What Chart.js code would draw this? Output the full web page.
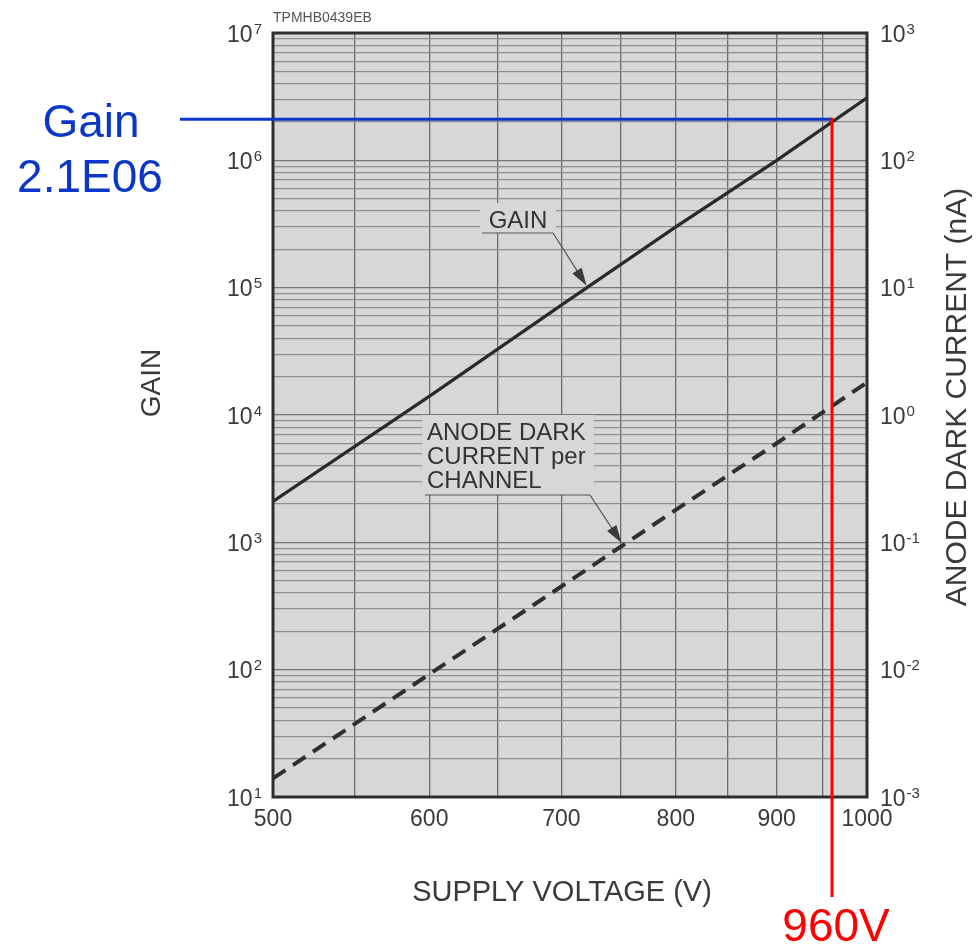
<!DOCTYPE html>
<html>
<head>
<meta charset="utf-8">
<title>Gain and anode dark current vs supply voltage</title>
<script src="https://cdn.jsdelivr.net/npm/chart.js@4.4.1/dist/chart.umd.min.js"></script>
<style>
  html, body { margin: 0; padding: 0; background: #fff; }
  #wrap { width: 976px; height: 947px; }
</style>
</head>
<body>
<div id="wrap"><canvas id="chart" width="976" height="947"></canvas></div>
<script>
// supply voltage (V) and the two curves read at each step
const voltages = [500, 600, 700, 800, 900, 1000];
const gain = [2.1e3, 1.4e4, 7.3e4, 3.0e5, 1.0e6, 3.1e6];
const darkCurrent = [1.4e-3, 9.2e-3, 0.045, 0.18, 0.6, 1.8]; // nA

const voltTicks = [500, 600, 700, 800, 900, 1000];
const voltGrid = [500, 550, 600, 650, 700, 750, 800, 850, 900, 950, 1000];
const gainDecades = [1e1, 1e2, 1e3, 1e4, 1e5, 1e6, 1e7];
const gainTickExp = ['1', '2', '3', '4', '5', '6', '7'];
const darkDecades = [1e-3, 1e-2, 1e-1, 1, 1e1, 1e2, 1e3];
const darkTickExp = ['-3', '-2', '-1', '0', '1', '2', '3'];

// operating point marked on top of the datasheet plot
const markVolt = 960;
const markGain = 2.1e6;
const markGainText = '2.1E06';

const FONT = "'Liberation Sans', Arial, sans-serif";
const PLOT_BG = '#d7d7d7';
const INK = '#333';
const LABEL = '#3a3a3a';

// log paper: lines at 1..9 of every decade
const gainGrid = [];
gainDecades.slice(0, -1).forEach(d => {
    for (let m = 1; m < 10; m++) gainGrid.push(m * d);
});
gainGrid.push(gainDecades[gainDecades.length - 1]);

function decadeIndex(list, v) {
    return list.findIndex(d => Math.abs(d - v) / d < 1e-6);
}

// pixel point on a drawn dataset line at voltage v
function pointOnLine(chart, dsIndex, v) {
    const pts = chart.getDatasetMeta(dsIndex).data;
    const px = chart.scales.x.getPixelForValue(v);
    for (let i = 0; i < pts.length - 1; i++) {
        if (px >= pts[i].x && px <= pts[i + 1].x) {
            const t = (px - pts[i].x) / (pts[i + 1].x - pts[i].x);
            return { x: px, y: pts[i].y + t * (pts[i + 1].y - pts[i].y) };
        }
    }
    return { x: px, y: pts[pts.length - 1].y };
}

function arrow(ctx, x0, y0, x1, y1) {
    const ang = Math.atan2(y1 - y0, x1 - x0);
    const len = 18, half = 5.5;
    ctx.beginPath();
    ctx.moveTo(x0, y0);
    ctx.lineTo(x1 - Math.cos(ang) * len * 0.6, y1 - Math.sin(ang) * len * 0.6);
    ctx.stroke();
    ctx.beginPath();
    ctx.moveTo(x1, y1);
    ctx.lineTo(x1 - Math.cos(ang) * len + Math.sin(ang) * half, y1 - Math.sin(ang) * len - Math.cos(ang) * half);
    ctx.lineTo(x1 - Math.cos(ang) * len - Math.sin(ang) * half, y1 - Math.sin(ang) * len + Math.cos(ang) * half);
    ctx.closePath();
    ctx.fill();
}

// "10" with a raised exponent; align 'right' or 'left' at x
function powerLabel(ctx, exp, x, y, align) {
    ctx.font = `23px ${FONT}`;
    const wb = ctx.measureText('10').width;
    ctx.font = `15px ${FONT}`;
    const we = ctx.measureText(exp).width;
    const x0 = align === 'right' ? x - wb - we - 1 : x;
    ctx.textAlign = 'left';
    ctx.textBaseline = 'alphabetic';
    ctx.font = `23px ${FONT}`;
    ctx.fillText('10', x0, y + 8.5);
    ctx.font = `15px ${FONT}`;
    ctx.fillText(exp, x0 + wb + 1, y + 0.5);
}

function rotatedText(ctx, text, x, y, size) {
    ctx.save();
    ctx.translate(x, y);
    ctx.rotate(-Math.PI / 2);
    ctx.font = `${size}px ${FONT}`;
    ctx.textAlign = 'center';
    ctx.textBaseline = 'middle';
    ctx.fillText(text, 0, 0);
    ctx.restore();
}

const paperPlugin = {
    id: 'paper',
    beforeDraw(chart) {
        const { ctx, chartArea: a } = chart;
        ctx.save();
        ctx.fillStyle = PLOT_BG;
        ctx.fillRect(a.left, a.top, a.right - a.left, a.bottom - a.top);
        ctx.restore();
    },
    afterDraw(chart) {
        const { ctx, chartArea: a } = chart;
        const x = chart.scales.x, y = chart.scales.y, y2 = chart.scales.y2;
        ctx.save();

        // frame
        ctx.strokeStyle = '#2e2e2e';
        ctx.lineWidth = 3;
        ctx.strokeRect(a.left, a.top, a.right - a.left, a.bottom - a.top);

        // drawing number
        ctx.fillStyle = '#555';
        ctx.font = `14px ${FONT}`;
        ctx.textAlign = 'left';
        ctx.textBaseline = 'alphabetic';
        ctx.fillText('TPMHB0439EB', a.left, 22);

        // decade labels on both log axes
        ctx.fillStyle = LABEL;
        gainDecades.forEach((v, i) => powerLabel(ctx, gainTickExp[i], a.left - 11, y.getPixelForValue(v), 'right'));
        darkDecades.forEach((v, i) => powerLabel(ctx, darkTickExp[i], a.right + 13, y2.getPixelForValue(v), 'left'));

        // axis titles
        rotatedText(ctx, 'GAIN', 152, 383, 28);
        rotatedText(ctx, 'ANODE DARK CURRENT (nA)', 958, 397, 30);
        ctx.font = `29px ${FONT}`;
        ctx.textAlign = 'center';
        ctx.textBaseline = 'middle';
        ctx.fillText('SUPPLY VOLTAGE (V)', 562, 893);

        // curve labels with leaders
        ctx.font = `24px ${FONT}`;
        ctx.textBaseline = 'alphabetic';
        ctx.strokeStyle = '#555';
        ctx.lineWidth = 1.2;

        ctx.fillStyle = PLOT_BG;
        ctx.fillRect(480, 203, 76, 30);
        ctx.fillStyle = INK;
        ctx.textAlign = 'center';
        ctx.fillText('GAIN', 518, 228);
        ctx.beginPath();
        ctx.moveTo(482, 233);
        ctx.lineTo(553, 233);
        ctx.stroke();
        ctx.fillStyle = '#3a3a3a';
        const g = pointOnLine(chart, 0, 721);
        arrow(ctx, 553, 233, g.x, g.y - 2);

        ctx.fillStyle = PLOT_BG;
        ctx.fillRect(422, 415, 172, 80);
        ctx.fillStyle = INK;
        ctx.textAlign = 'left';
        ctx.fillText('ANODE DARK', 427, 440);
        ctx.fillText('CURRENT per', 427, 464);
        ctx.fillText('CHANNEL', 427, 488);
        ctx.beginPath();
        ctx.moveTo(425, 495);
        ctx.lineTo(590, 495);
        ctx.stroke();
        ctx.fillStyle = '#3a3a3a';
        const d = pointOnLine(chart, 1, 751);
        arrow(ctx, 590, 495, d.x, d.y - 3);

        // operating point: gain level and voltage
        const mx = x.getPixelForValue(markVolt);
        const my = y.getPixelForValue(markGain);
        ctx.lineWidth = 3;
        ctx.strokeStyle = '#0b36c9';
        ctx.beginPath();
        ctx.moveTo(180, my);
        ctx.lineTo(mx, my);
        ctx.stroke();
        ctx.strokeStyle = '#ff0000';
        ctx.beginPath();
        ctx.moveTo(mx, my - 1.5);
        ctx.lineTo(mx, 897);
        ctx.stroke();

        ctx.font = `46px ${FONT}`;
        ctx.textAlign = 'center';
        ctx.fillStyle = '#0b36c9';
        ctx.fillText('Gain', 91, 137);
        ctx.fillText(markGainText, 90, 192);
        ctx.fillStyle = '#ff0000';
        ctx.fillText(markVolt + 'V', mx + 4, 941);

        ctx.restore();
    }
};

new Chart(document.getElementById('chart'), {
    type: 'line',
    data: {
        datasets: [{
            label: 'Gain',
            data: voltages.map((v, i) => ({ x: v, y: gain[i] })),
            yAxisID: 'y',
            borderColor: '#2a2a2a',
            borderWidth: 3.2,
            pointRadius: 0,
            tension: 0
        }, {
            label: 'Anode dark current per channel',
            data: voltages.map((v, i) => ({ x: v, y: darkCurrent[i] })),
            yAxisID: 'y2',
            borderColor: '#2f2f2f',
            borderWidth: 4,
            borderDash: [15, 9],
            pointRadius: 0,
            tension: 0
        }]
    },
    options: {
        responsive: false,
        animation: false,
        layout: { padding: { left: 131, right: 0, top: 33, bottom: 33 } },
        plugins: { legend: { display: false }, tooltip: { enabled: false } },
        scales: {
            x: {
                type: 'logarithmic',
                min: 500,
                max: 1000,
                afterBuildTicks: s => { s.ticks = voltGrid.map(v => ({ value: v })); },
                afterFit: s => { s.height = 117; },
                ticks: {
                    autoSkip: false,
                    maxRotation: 0,
                    padding: 9,
                    color: LABEL,
                    font: { family: FONT, size: 23 },
                    callback: v => voltTicks.includes(v) ? String(v) : ''
                },
                grid: { color: '#6c6c6c', lineWidth: 1.3, drawTicks: false },
                border: { display: false }
            },
            y: {
                type: 'logarithmic',
                position: 'left',
                min: 1e1,
                max: 1e7,
                afterBuildTicks: s => { s.ticks = gainGrid.map(v => ({ value: v })); },
                afterFit: s => { s.width = 142; },
                ticks: { display: false },
                grid: {
                    color: c => (c.tick && decadeIndex(gainDecades, c.tick.value) >= 0) ? '#767676' : '#8e8e8e',
                    lineWidth: 1.3,
                    drawTicks: false
                },
                border: { display: false }
            },
            y2: {
                type: 'logarithmic',
                position: 'right',
                min: 1e-3,
                max: 1e3,
                afterBuildTicks: s => { s.ticks = darkDecades.map(v => ({ value: v })); },
                afterFit: s => { s.width = 109; },
                ticks: { display: false },
                grid: { display: false, drawTicks: false },
                border: { display: false }
            }
        }
    },
    plugins: [paperPlugin]
});
</script>
</body>
</html>
